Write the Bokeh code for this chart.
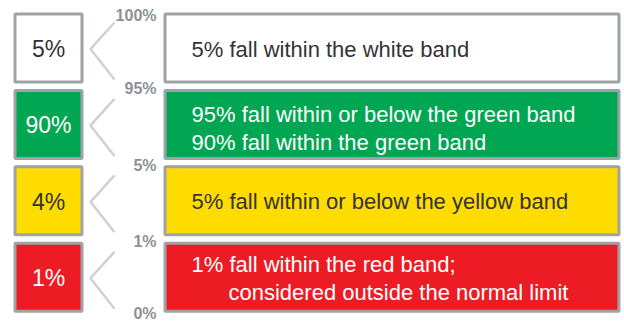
from bokeh.plotting import figure
from bokeh.models import ColumnDataSource, Range1d
from bokeh.core.properties import value
from bokeh.embed import file_html
from bokeh.resources import INLINE

# ---- data ----
band_names = ["white", "green", "yellow", "red"]
band_share = ["5%", "90%", "4%", "1%"]
boundary_labels = ["100%", "95%", "5%", "1%", "0%"]
descriptions = [
    ["5% fall within the white band"],
    ["95% fall within or below the green band", "90% fall within the green band"],
    ["5% fall within or below the yellow band"],
    ["1% fall within the red band;", "considered outside the normal limit"],
]

# ---- styles ----
fill_colors = {"white": "#ffffff", "green": "#00a651", "yellow": "#ffdc00", "red": "#ed1c24"}
text_colors = {"white": "#333333", "green": "#ffffff", "yellow": "#333333", "red": "#ffffff"}
BORDER = "#9fa3a7"
CHEVRON = "#cfd0d2"
LABEL = "#8d9195"
FONT = "Liberation Sans"

W, H = 624, 323
ROW_TOP0, ROW_STEP, ROW_H = 12.0, 76.4, 71.0
LBOX = (14.5, 81.5)
RBOX = (164.5, 618.5)
TEXT_X = 191
LINE_GAP = 28
INDENT = {(3, 1): 37}
ROW_SHIFT = {1: 3}

p = figure(width=W, height=H, x_range=Range1d(0, W), y_range=Range1d(H, 0),
           output_backend="svg", toolbar_location=None, min_border=0)
p.axis.visible = False
p.grid.visible = False
p.outline_line_color = None
p.background_fill_color = "white"
p.border_fill_color = "white"

n = len(band_names)
tops = [ROW_TOP0 + i * ROW_STEP for i in range(n)]
bottoms = [t + ROW_H for t in tops]
mids = [(t + b) / 2 for t, b in zip(tops, bottoms)]
fills = [fill_colors[b] for b in band_names]
tcols = [text_colors[b] for b in band_names]

for (l, r) in (LBOX, RBOX):
    src = ColumnDataSource(dict(left=[l] * n, right=[r] * n, top=[t + 1.5 for t in tops],
                                bottom=[b - 1.5 for b in bottoms], fill=fills))
    p.quad(left="left", right="right", top="top", bottom="bottom", source=src,
           fill_color="fill", line_color=BORDER, line_width=3)

# share numbers in left boxes
p.text(x=[(LBOX[0] + LBOX[1]) / 2] * n, y=[m + 1 for m in mids], text=band_share,
       text_color=tcols, text_font=value(FONT), text_font_size="23px",
       text_align="center", text_baseline="middle")

# chevrons
xs, ys = [], []
for t, b, m in zip(tops, bottoms, mids):
    xs.append([114, 90, 114])
    ys.append([t + 10, m + 1, b - 4])
p.multi_line(xs=xs, ys=ys, line_color=CHEVRON, line_width=2.5)

# boundary labels
bounds = [tops[0]] + [(bottoms[i - 1] + tops[i]) / 2 for i in range(1, n)] + [bottoms[-1]]
label_y = [min(bd + 2.5, H - 10.5) for bd in bounds]
p.text(x=[156] * len(boundary_labels), y=label_y, text=boundary_labels,
       text_color=LABEL, text_font=value("Liberation Sans"), text_font_style="bold",
       text_font_size="16px", text_align="right", text_baseline="middle")

# descriptions
lx, ly, lt, lc = [], [], [], []
for i, lines in enumerate(descriptions):
    k = len(lines)
    for j, line in enumerate(lines):
        lx.append(TEXT_X + INDENT.get((i, j), 0))
        ly.append(mids[i] + 1 + ROW_SHIFT.get(i, 0) + (j - (k - 1) / 2) * LINE_GAP)
        lt.append(line)
        lc.append(tcols[i])
p.text(x=lx, y=ly, text=lt, text_color=lc, text_font=value(FONT), text_font_size="22px",
       text_align="left", text_baseline="middle")

open("out.html", "w").write(file_html(p, INLINE))
